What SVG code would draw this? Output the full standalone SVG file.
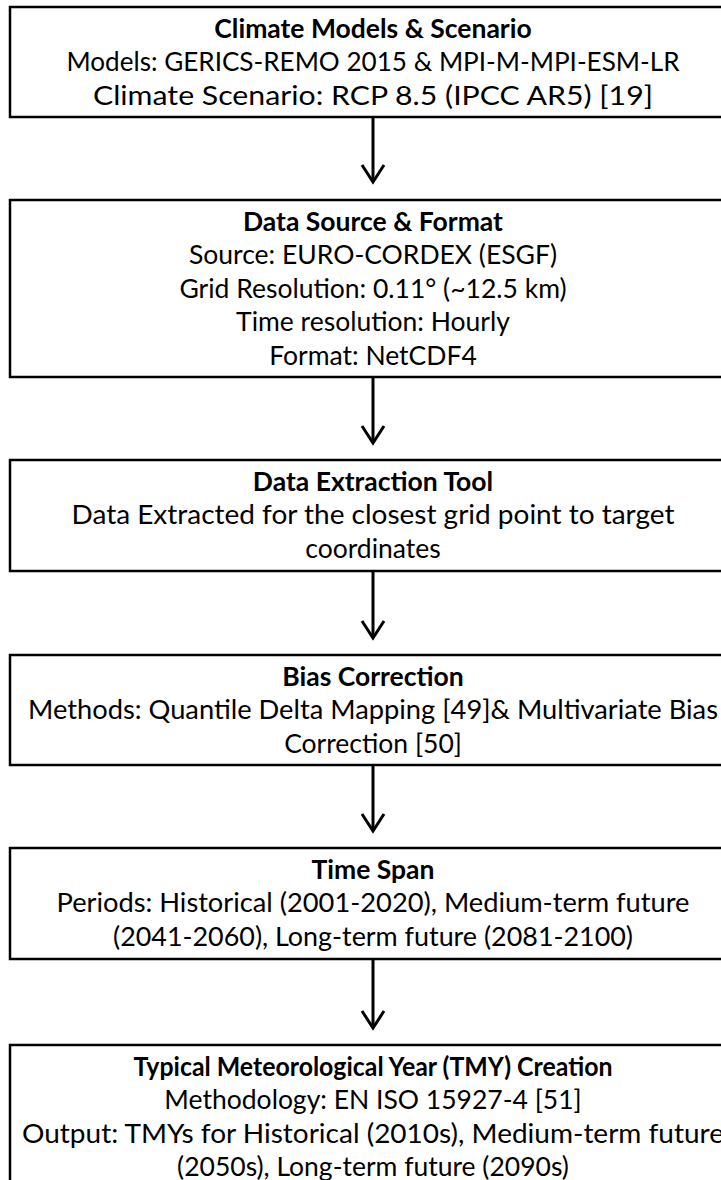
<svg xmlns="http://www.w3.org/2000/svg" width="721" height="1180" viewBox="0 0 721 1180">
<style>
.box{fill:#fff;stroke:#000;stroke-width:2.5}
.t{font-family:Lato,"Open Sans",sans-serif;font-size:26.5px;fill:#000;text-anchor:middle}
.b{font-weight:bold}
.conn line{stroke:#000;stroke-width:3;marker-end:url(#ah)}
</style>
<defs>
<marker id="ah" markerUnits="userSpaceOnUse" viewBox="-20 -20 40 40" markerWidth="40" markerHeight="40" refX="0" refY="0" orient="auto" overflow="visible">
<path d="M-17,-11 L0,0 L-17,11" fill="none" stroke="#000" stroke-width="3"/>
</marker>
</defs>
<rect width="721" height="1180" fill="#fff"/>
<g id="n1">
<rect class="box" x="10" y="7" width="728" height="110"/>
<text class="t b" x="373" y="38">Climate Models &amp; Scenario</text>
<text class="t" x="373" y="71" textLength="613" lengthAdjust="spacingAndGlyphs">Models: GERICS-REMO 2015 &amp; MPI-M-MPI-ESM-LR</text>
<text class="t" x="373" y="105" textLength="560" lengthAdjust="spacingAndGlyphs">Climate Scenario: RCP 8.5 (IPCC AR5) [19]</text>
</g>
<g id="n2">
<rect class="box" x="10" y="200" width="728" height="177"/>
<text class="t b" x="373" y="231">Data Source &amp; Format</text>
<text class="t" x="373" y="264">Source: EURO-CORDEX (ESGF)</text>
<text class="t" x="373" y="298">Grid Resolution: 0.11° (~12.5 km)</text>
<text class="t" x="373" y="331">Time resolution: Hourly</text>
<text class="t" x="373" y="365">Format: NetCDF4</text>
</g>
<g id="n3">
<rect class="box" x="10" y="460" width="728" height="111"/>
<text class="t b" x="373" y="491">Data Extraction Tool</text>
<text class="t" x="373" y="524" textLength="603" lengthAdjust="spacingAndGlyphs">Data Extracted for the closest grid point to target</text>
<text class="t" x="373" y="558">coordinates</text>
</g>
<g id="n4">
<rect class="box" x="10" y="655" width="728" height="110"/>
<text class="t b" x="373" y="686">Bias Correction</text>
<text class="t" x="373" y="719" textLength="690" lengthAdjust="spacingAndGlyphs">Methods: Quantile Delta Mapping [49]&amp; Multivariate Bias</text>
<text class="t" x="373" y="753">Correction [50]</text>
</g>
<g id="n5">
<rect class="box" x="10" y="848" width="728" height="111"/>
<text class="t b" x="373" y="879">Time Span</text>
<text class="t" x="373" y="912" textLength="633" lengthAdjust="spacingAndGlyphs">Periods: Historical (2001-2020), Medium-term future</text>
<text class="t" x="373" y="946" textLength="520" lengthAdjust="spacingAndGlyphs">(2041-2060), Long-term future (2081-2100)</text>
</g>
<g id="n6">
<rect class="box" x="10" y="1045" width="728" height="150"/>
<text class="t b" x="373" y="1076" textLength="479" lengthAdjust="spacingAndGlyphs">Typical Meteorological Year (TMY) Creation</text>
<text class="t" x="373" y="1109">Methodology: EN ISO 15927-4 [51]</text>
<text class="t" x="373" y="1143" textLength="702" lengthAdjust="spacingAndGlyphs">Output: TMYs for Historical (2010s), Medium-term future</text>
<text class="t" x="373" y="1176">(2050s), Long-term future (2090s)</text>
</g>
<g id="connectors" class="conn">
<line x1="373" y1="117" x2="373" y2="182"/>
<line x1="373" y1="377" x2="373" y2="443"/>
<line x1="373" y1="571" x2="373" y2="638"/>
<line x1="373" y1="765" x2="373" y2="831"/>
<line x1="373" y1="959" x2="373" y2="1028"/>
</g>
</svg>
